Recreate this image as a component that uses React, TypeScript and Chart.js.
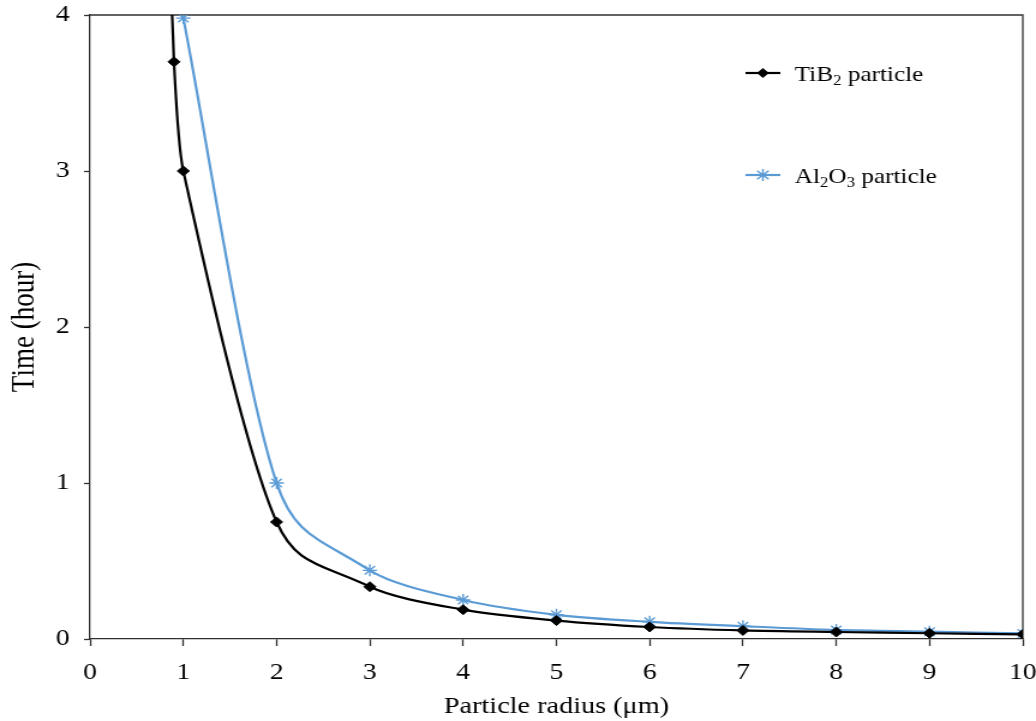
import React, { useEffect, useRef } from "react";
import { Chart, registerables } from "chart.js";

Chart.register(...registerables);

const radiusTiB2 = [0.8, 0.9, 1, 2, 3, 4, 5, 6, 7, 8, 9, 10];
const timeTiB2 = [5.3, 3.7, 3.0, 0.75, 0.335, 0.188, 0.118, 0.077, 0.055, 0.045, 0.037, 0.03];
const radiusAl2O3 = [1, 2, 3, 4, 5, 6, 7, 8, 9, 10];
const timeAl2O3 = [3.98, 1.0, 0.44, 0.25, 0.155, 0.11, 0.082, 0.058, 0.047, 0.036];
const xTicks = [0, 1, 2, 3, 4, 5, 6, 7, 8, 9, 10];
const yTicks = [0, 1, 2, 3, 4];

const legendItems = [
  { parts: [["TiB", false], ["2", true], [" particle", false]], color: "#000000", marker: "diamond" },
  { parts: [["Al", false], ["2", true], ["O", false], ["3", true], [" particle", false]], color: "#5B9BD5", marker: "star" },
];

const FONT = "'Liberation Serif', 'Times New Roman', serif";
const AXIS = "#303030";
const BLACK = "#000000";
const BLUE = "#5B9BD5";
const CLEAR = "rgba(0,0,0,0)";
const STRETCH = 1.2;
const PAGE_W = 1036;
const PAGE_H = 721;
const CANVAS_W = Math.round(PAGE_W / STRETCH);

// smoothing passes: [from x, to x, tension]
const PASSES: [number, number, number][] = [
  [-1, 2, 0.22],
  [2, 3, 0.48],
  [3, 11, 0.3],
];

const framePlugin = {
  id: "frame",
  beforeDatasetsDraw(chart: any) {
    const { ctx, chartArea } = chart;
    ctx.save();
    ctx.strokeStyle = AXIS;
    ctx.lineWidth = 1.3;
    ctx.beginPath();
    ctx.moveTo(chartArea.left, chartArea.top);
    ctx.lineTo(chartArea.right, chartArea.top);
    ctx.lineTo(chartArea.right, chartArea.bottom);
    ctx.stroke();
    ctx.restore();
  },
};

const legendPlugin = {
  id: "customLegend",
  afterDatasetsDraw(chart: any) {
    const { ctx, chartArea } = chart;
    const x0 = chartArea.left + 546;
    const ys = [chartArea.top + 58, chartArea.top + 160];
    ctx.save();
    legendItems.forEach((item, i) => {
      const y = ys[i];
      ctx.strokeStyle = item.color;
      ctx.lineWidth = 2.2;
      ctx.beginPath();
      ctx.moveTo(x0, y);
      ctx.lineTo(x0 + 29, y);
      ctx.stroke();
      const cx = x0 + 14.5;
      if (item.marker === "diamond") {
        ctx.fillStyle = item.color;
        ctx.beginPath();
        ctx.moveTo(cx, y - 5);
        ctx.lineTo(cx + 5, y);
        ctx.lineTo(cx, y + 5);
        ctx.lineTo(cx - 5, y);
        ctx.closePath();
        ctx.fill();
      } else {
        ctx.lineWidth = 1.5;
        const r = 6;
        ctx.beginPath();
        ctx.moveTo(cx, y - r);
        ctx.lineTo(cx, y + r);
        ctx.moveTo(cx - r * 0.8, y - r * 0.7);
        ctx.lineTo(cx + r * 0.8, y + r * 0.7);
        ctx.moveTo(cx - r * 0.8, y + r * 0.7);
        ctx.lineTo(cx + r * 0.8, y - r * 0.7);
        ctx.stroke();
      }
      let tx = x0 + 41;
      ctx.fillStyle = "#000000";
      ctx.textBaseline = "alphabetic";
      ctx.textAlign = "left";
      const base = y + 7.5;
      item.parts.forEach(([t, sub]) => {
        ctx.font = sub ? `14px ${FONT}` : `21px ${FONT}`;
        ctx.fillText(t as string, tx, sub ? base + 4 : base);
        tx += ctx.measureText(t as string).width;
      });
    });
    ctx.restore();
  },
};

// Overlapping passes per series, each showing only its own range of segments.
function pass(label: string, xs: number[], ys: number[], color: string, p: [number, number, number], markers: any) {
  const [from, to, tension] = p;
  return {
    label,
    data: xs.map((x, i) => ({ x, y: ys[i] })),
    borderColor: color,
    backgroundColor: color,
    borderWidth: 2.2,
    tension,
    fill: false,
    segment: {
      borderColor: (c: any) => {
        const x = xs[c.p0DataIndex];
        return x >= from && x < to ? color : CLEAR;
      },
    },
    ...markers,
  };
}

export default function App() {
  const ref = useRef<HTMLCanvasElement>(null);
  useEffect(() => {
    if (!ref.current) return;
    const noMarkers = { pointRadius: 0 };
    const diamonds = {
      pointStyle: "rectRot",
      pointRadius: radiusTiB2.map((x) => (x < 0.85 ? 0 : 5)),
      pointBorderWidth: 1,
    };
    const stars = { pointStyle: "star", pointRadius: 6, pointBorderWidth: 1.4 };
    const datasets: any[] = [];
    PASSES.forEach((p, k) => {
      datasets.push(pass("TiB2 particle", radiusTiB2, timeTiB2, BLACK, p, k === PASSES.length - 1 ? diamonds : noMarkers));
    });
    PASSES.forEach((p, k) => {
      datasets.push(pass("Al2O3 particle", radiusAl2O3, timeAl2O3, BLUE, p, k === PASSES.length - 1 ? stars : noMarkers));
    });
    const chart = new Chart(ref.current, {
      type: "line",
      data: { datasets },
      options: {
        animation: false,
        responsive: false,
        maintainAspectRatio: false,
        devicePixelRatio: 1,
        layout: { padding: { left: 0, right: 11, top: 15, bottom: 0 } },
        plugins: { legend: { display: false }, tooltip: { enabled: false } },
        scales: {
          x: {
            type: "linear",
            min: 0,
            max: 10,
            afterBuildTicks: (s: any) => {
              s.ticks = xTicks.map((v) => ({ value: v }));
            },
            afterFit: (s: any) => {
              s.height = 82;
              s.paddingLeft = 0;
              s.paddingRight = 0;
            },
            ticks: { color: "#000", font: { family: FONT, size: 23 }, padding: 13, maxRotation: 0 },
            grid: { drawOnChartArea: false, drawTicks: true, tickLength: 7, color: AXIS, tickWidth: 1.3 },
            border: { display: true, color: AXIS, width: 1.3 },
            title: {
              display: true,
              text: "Particle radius (μm)",
              color: "#000",
              font: { family: FONT, size: 23.5 },
              padding: { top: 1, bottom: 0 },
            },
          },
          y: {
            type: "linear",
            min: 0,
            max: 4,
            afterBuildTicks: (s: any) => {
              s.ticks = yTicks.map((v) => ({ value: v }));
            },
            afterFit: (s: any) => {
              s.width = 75;
              s.paddingTop = 0;
              s.paddingBottom = 0;
            },
            ticks: { color: "#000", font: { family: FONT, size: 23 }, padding: 12 },
            grid: { drawOnChartArea: false, drawTicks: true, tickLength: 5, color: AXIS, tickWidth: 1.3 },
            border: { display: true, color: AXIS, width: 1.3 },
            title: {
              display: true,
              text: "Time (hour)",
              color: "#000",
              font: { family: FONT, size: 27 },
              padding: { top: 5, bottom: 0 },
            },
          },
        },
      },
      plugins: [framePlugin, legendPlugin],
    } as any);
    return () => chart.destroy();
  }, []);
  return (
    <div style={{ position: "absolute", left: 0, top: 0, width: PAGE_W, height: PAGE_H, background: "#fff" }}>
      <canvas
        ref={ref}
        width={CANVAS_W}
        height={PAGE_H}
        style={{ display: "block", width: PAGE_W, height: PAGE_H }}
      />
    </div>
  );
}
